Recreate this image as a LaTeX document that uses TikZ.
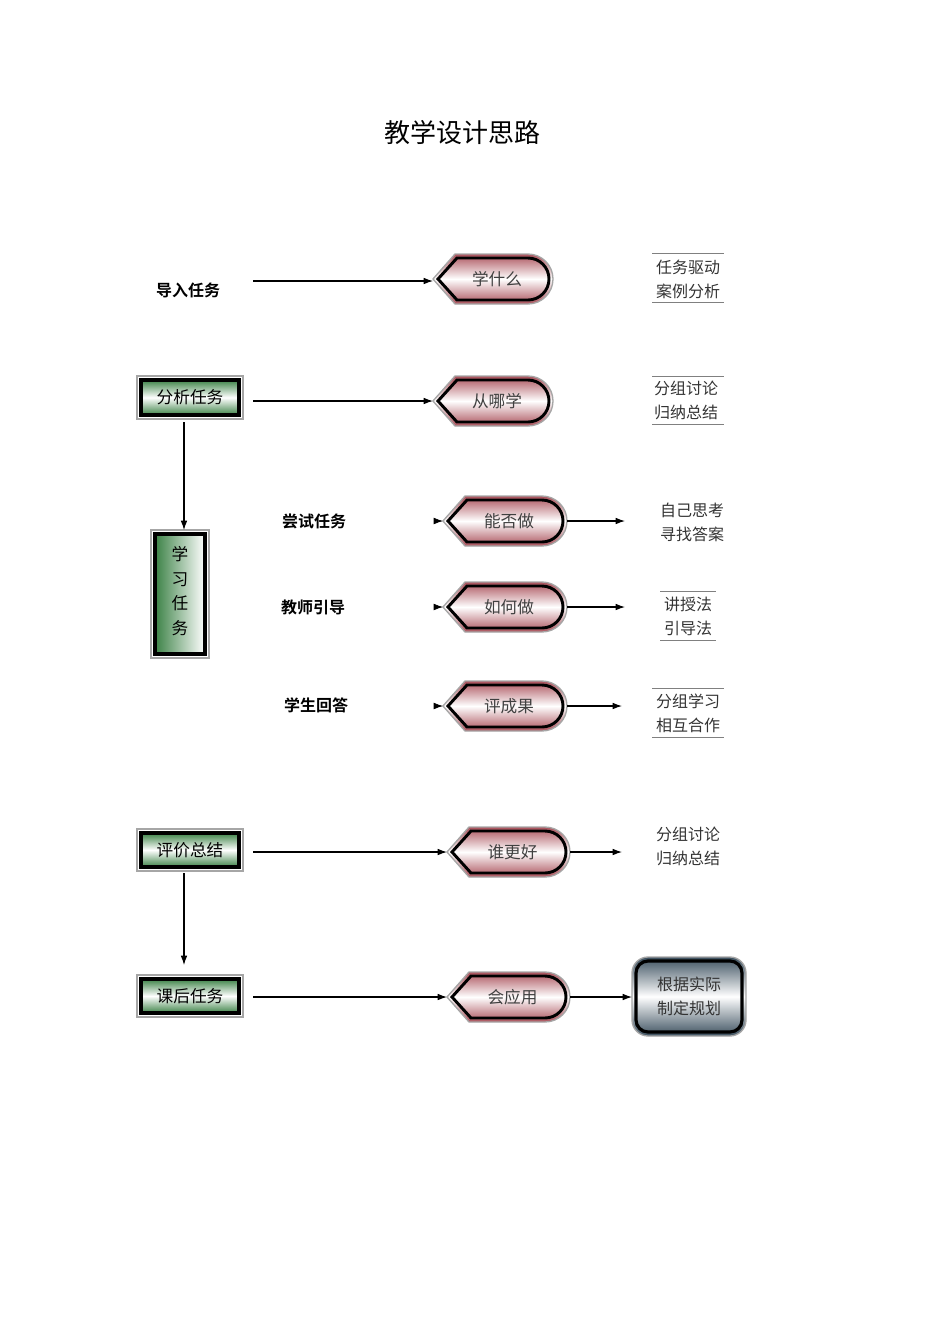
\documentclass[tikz,border=0pt]{standalone}
\usepackage{fontspec}
\setmainfont{Noto Sans CJK SC}
\newfontfamily\cjkb{Noto Sans CJK SC Bold}
\usetikzlibrary{arrows.meta}
\definecolor{pk}{RGB}{170,80,90}
\definecolor{gr}{RGB}{60,130,70}
\definecolor{sl}{RGB}{60,80,95}
\tikzset{
 arr/.style={-{Latex[length=7pt,width=5pt]},line width=0.8pt},
 lbl/.style={font=\cjkb\fontsize{12}{14}\selectfont},
 rt/.style={font=\fontsize{12}{18}\selectfont\color{black!80},align=center},
 dtx/.style={font=\fontsize{12.5}{14}\selectfont\color{black!75},inner sep=0pt},
 gline/.style={gray,line width=0.6pt},
}
% display shape: #1 name, #2 left x, #3 right x, #4 center y, #5 text
\newcommand{\dispshape}[5]{%
 \path[draw=gray!70,line width=1pt,top color=pk,bottom color=pk,middle color=white]
   (#2,#4) -- (#2+22,#4-25) -- (#3-25,#4-25) arc[start angle=-90,end angle=90,radius=25] -- (#2+22,#4+25) -- cycle;
 \path[draw=black,line width=2.2pt]
   (#2+5,#4) -- (#2+24,#4-21) -- (#3-25,#4-21) arc[start angle=-90,end angle=90,radius=21] -- (#2+24,#4+21) -- cycle;
 \node[dtx] (#1) at ({(#2+#3)/2+4},#4) {#5};
 \coordinate (#1w) at (#2,#4);
 \coordinate (#1e) at (#3,#4);
}
% green box #1 name #2 x1 #3 y1 #4 x2 #5 y2 #6 text
\newcommand{\gbox}[6]{%
 \path[draw=gray!70,line width=1pt,fill=white] (#2,#3) rectangle (#4,#5);
 \path[draw=black,line width=2.4pt,top color=gr,bottom color=gr,middle color=white] (#2+4,#3+4) rectangle (#4-4,#5-4);
 \node[inner sep=0pt,font=\fontsize{12.5}{19}\selectfont,align=center] (#1) at ({(#2+#4)/2},{(#3+#5)/2}) {#6};
}
\newcommand{\glines}[4]{% x1 x2 ytop ybot
 \draw[gline] (#1,#3) -- (#2,#3); \draw[gline] (#1,#4) -- (#2,#4);}
\begin{document}
\begin{tikzpicture}[x=0.75pt,y=-0.75pt]
\useasboundingbox (0,0) rectangle (950,1318);
\node[font=\fontsize{19.5}{22}\selectfont] (title) at (462,133) {教学设计思路};

\node[lbl] (dr) at (188,290) {导入任务};
\node[lbl] (cs) at (314,521) {尝试任务};
\node[lbl] (js) at (313,607) {教师引导};
\node[lbl] (xs) at (316,705) {学生回答};

\gbox{fx}{137}{376}{243}{419}{分析任务}
\gbox{pj}{137}{829}{243}{871}{评价总结}
\gbox{kh}{137}{975}{243}{1017}{课后任务}
\path[draw=gray!70,line width=1pt] (151,530) rectangle (209,658);
\path[draw=black,line width=2.4pt,left color=gr,right color=white] (155,534) rectangle (205,654);
\node[inner sep=0pt,font=\fontsize{12.5}{18.5}\selectfont,align=center] (xx) at (180,591) {学\\习\\任\\务};

\dispshape{a}{433}{553}{279}{学什么}
\dispshape{b}{433}{553}{401}{从哪学}
\dispshape{c}{443}{567}{521}{能否做}
\dispshape{d}{443}{567}{607}{如何做}
\dispshape{e}{443}{567}{706}{评成果}
\dispshape{f}{447}{570}{852}{谁更好}
\dispshape{g}{447}{570}{997}{会应用}

\path[draw=gray!70,line width=1pt,rounded corners=12,top color=sl,bottom color=sl,middle color=white] (632,957) rectangle (746,1036);
\path[draw=black,line width=2.4pt,rounded corners=9] (636,961) rectangle (742,1032);
\node[rt] (gj) at (689,996) {根据实际\\制定规划};
\coordinate (gjw) at (632,997);

\coordinate (s1) at (253,281);
\coordinate (fxs) at (184,422);
\coordinate (xxn) at (184,530);
\coordinate (pjs) at (184,873);
\coordinate (khn) at (184,965);
\draw[arr] (s1) -- (aw |- s1);
\draw[arr] (253,401) -- (bw);
\draw[arr] (fxs) -- (xxn);
\draw[arr] (pjs) -- (khn);
\draw[arr] (253,852) -- (fw);
\draw[arr] (253,997) -- (gw);
\draw[arr,line width=0.5pt] ([xshift=-3*0.75pt]cw) -- (cw);
\draw[arr,line width=0.5pt] ([xshift=-3*0.75pt]dw) -- (dw);
\draw[arr,line width=0.5pt] ([xshift=-3*0.75pt]ew) -- (ew);

\node[rt] (t1) at (688,279) {任务驱动\\案例分析};
\node[rt] (t2) at (686,400) {分组讨论\\归纳总结};
\node[rt] (t3) at (692,522) {自己思考\\寻找答案};
\node[rt] (t4) at (688,616) {讲授法\\引导法};
\node[rt] (t5) at (688,713) {分组学习\\相互合作};
\node[rt] (t6) at (688,846) {分组讨论\\归纳总结};
\glines{652}{724}{253}{302}
\glines{652}{724}{376}{424}
\glines{660}{716}{591}{640}
\glines{652}{724}{688}{737}

\draw[arr] (ce) -- (625,521);
\draw[arr] (de) -- (625,607);
\draw[arr] (ee) -- (622,706);
\draw[arr] (fe) -- (622,852);
\draw[arr] (ge) -- (gjw);
\end{tikzpicture}
\end{document}
